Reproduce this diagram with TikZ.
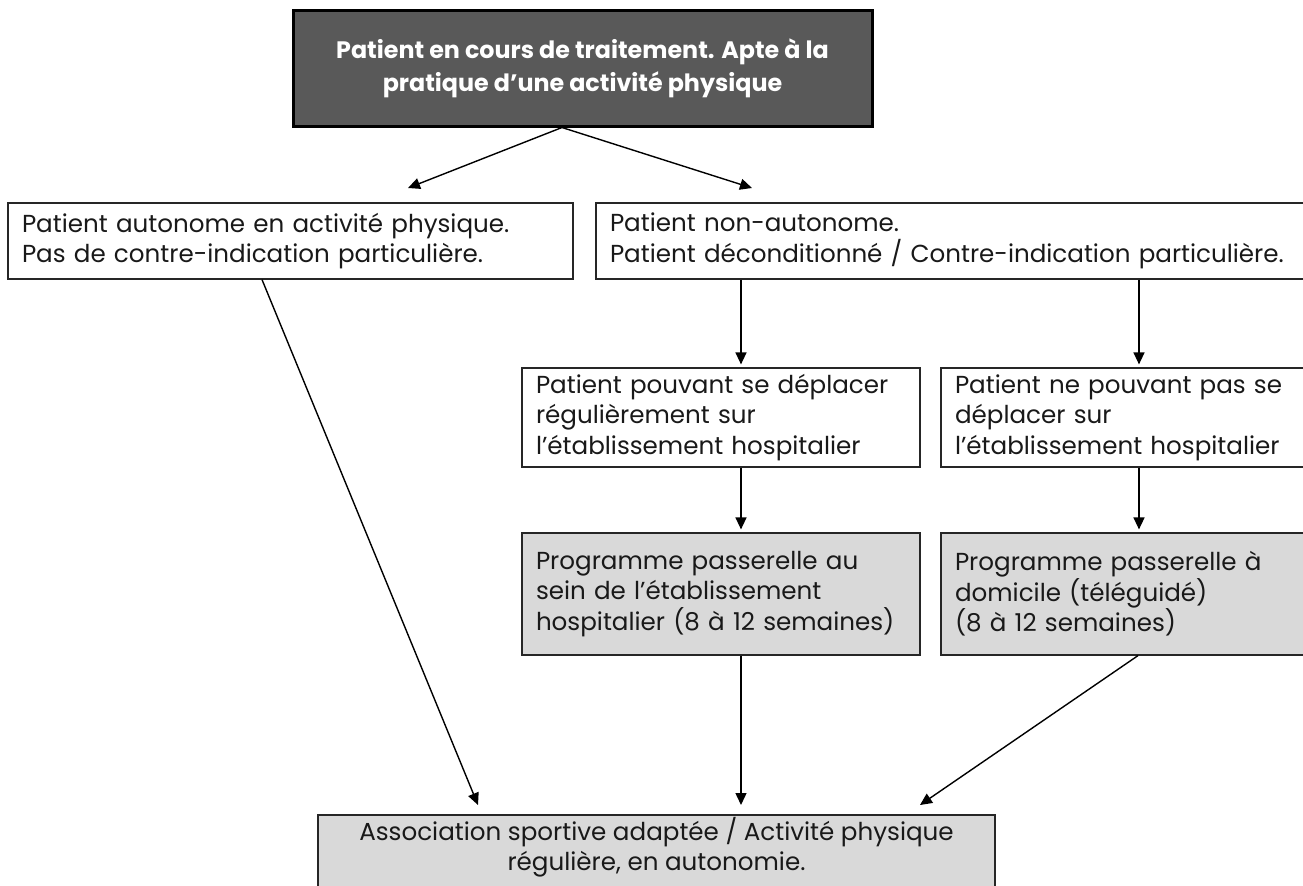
\documentclass[tikz,border=0pt]{standalone}
\usepackage{fontspec}
\setmainfont{Poppins}
\usetikzlibrary{arrows.meta,calc}
\definecolor{darkfill}{HTML}{595959}
\definecolor{lightfill}{HTML}{D9D9D9}
\definecolor{edge}{HTML}{262626}
\begin{document}
\begin{tikzpicture}[x=0.5pt,y=-0.5pt,
  basebox/.style={rectangle, draw=edge, line width=0.6pt, inner xsep=7pt, inner ysep=1.5pt,
    font=\fontsize{12.3}{15.3}\selectfont, align=left, text=black!90},
  whitebox/.style={basebox, fill=white},
  greybox/.style={basebox, fill=lightfill},
  headbox/.style={rectangle, draw=black, line width=1.5pt, fill=darkfill, text=white,
    font=\bfseries\fontsize{11.9}{16.5}\selectfont, align=center, inner sep=2pt},
  arr/.style={draw=black, line width=0.7pt, -{Triangle[length=6pt,width=5.5pt]}}
]
\useasboundingbox (0,0) rectangle (1303,885);
\clip (0,0) rectangle (1303,885);

\node[headbox, minimum width=289.5pt, minimum height=58pt] (top) at (582.5,68)
  {Patient en cours de traitement. Apte à la\\pratique d’une activité physique};

\node[whitebox, text width=268.5pt, minimum height=38pt] (A) at (290.5,241)
  {Patient autonome en activité physique.\\Pas de contre-indication particulière.};
\node[whitebox, text width=346pt, minimum height=38pt] (B) at (956,241)
  {Patient non-autonome.\\Patient déconditionné / Contre-indication particulière.};

\node[whitebox, text width=185pt, minimum height=49.5pt] (C) at (721,417.5)
  {Patient pouvant se déplacer\\régulièrement sur\\l’établissement hospitalier};
\node[whitebox, text width=173pt, minimum height=49.5pt] (D) at (1128,417.5)
  {Patient ne pouvant pas se\\déplacer sur\\l’établissement hospitalier};

\node[greybox, text width=185pt, minimum height=61pt] (E) at (721,594)
  {Programme passerelle au\\sein de l’établissement\\hospitalier (8 à 12 semaines)};
\node[greybox, text width=173pt, minimum height=61pt] (F) at (1128,594)
  {Programme passerelle à\\domicile (téléguidé)\\(8 à 12 semaines)};

\node[greybox, minimum width=338.5pt, minimum height=45pt] (G) at (656.5,860) {};
\node[font=\fontsize{12.3}{14.8}\selectfont, align=center, text=black!90, inner sep=0pt] (Gtext) at (656.5,847.5)
  {Association sportive adaptée / Activité physique\\régulière, en autonomie.};

% connector anchors
\coordinate (apex) at ($(top.south)+(-10.25pt,0)$);
\coordinate (tA) at (408,188);
\coordinate (tB) at (752,188);
\coordinate (xL) at (741,0);
\coordinate (xR) at (1139,0);
\coordinate (xA) at (262,0);
\coordinate (xF) at (1138,0);
\coordinate (gA) at (478,805);
\coordinate (gE) at (741,805);
\coordinate (gF) at (920,805);

\draw[arr] (apex) -- (tA);
\draw[arr] (apex) -- (tB);
\draw[arr, shorten >=1.5pt] (B.south -| xL) -- (C.north -| xL);
\draw[arr, shorten >=1.5pt] (B.south -| xR) -- (D.north -| xR);
\draw[arr, shorten >=1.5pt] (C.south -| xL) -- (E.north -| xL);
\draw[arr, shorten >=1.5pt] (D.south -| xR) -- (F.north -| xR);
\draw[arr] (A.south -| xA) -- (gA);
\draw[arr] (E.south -| xL) -- (gE);
\draw[arr] (F.south -| xF) -- (gF);
\end{tikzpicture}
\end{document}
